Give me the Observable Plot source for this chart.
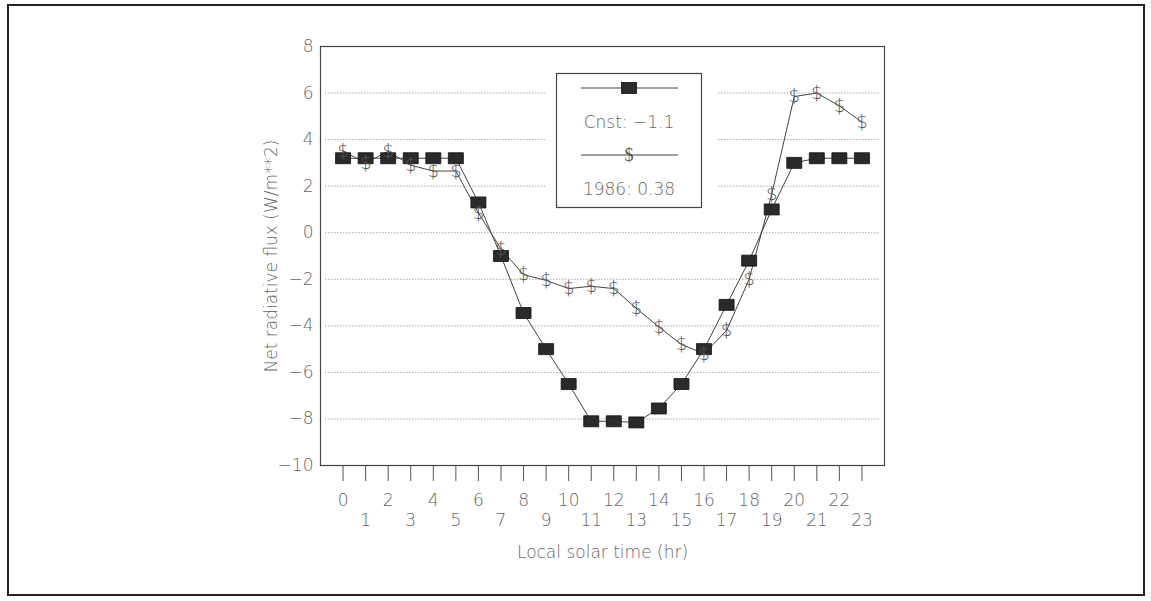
<!DOCTYPE html>
<html>
<head>
<meta charset="utf-8">
<script src="https://cdn.jsdelivr.net/npm/d3@7"></script>
<script src="https://cdn.jsdelivr.net/npm/@observablehq/plot@0.6"></script>
<style>
  html, body { margin: 0; padding: 0; background: #fff; }
  #wrap { position: relative; width: 1151px; height: 601px; overflow: hidden; }
  #border { position: absolute; left: 7px; top: 4px; width: 1134px; height: 588px; border: 2px solid #222; box-sizing: content-box; pointer-events: none; }
  #legend { position: absolute; left: 0; top: 0; }
  svg text { font-family: "DejaVu Sans", Lato, sans-serif; font-weight: 200; }
</style>
</head>
<body>
<div id="wrap"><div id="border"></div></div>
<script>
// ---- data ----
const hours = d3.range(0, 24);
const cnst = [3.2, 3.2, 3.2, 3.2, 3.2, 3.2, 1.3, -1.0, -3.45, -5.0, -6.5, -8.1,
              -8.1, -8.15, -7.55, -6.5, -5.0, -3.1, -1.2, 1.0, 3.0, 3.2, 3.2, 3.2];
const y1986 = [3.5, 3.0, 3.5, 2.9, 2.65, 2.65, 0.85, -0.7, -1.8, -2.05, -2.4, -2.3,
               -2.4, -3.25, -4.05, -4.8, -5.2, -4.2, -2.0, 1.65, 5.85, 6.0, 5.45, 4.75];
const yTicks = [-10, -8, -6, -4, -2, 0, 2, 4, 6, 8];
const gridVals = [-8, -6, -4, -2, 0, 2, 4, 6];
const evenHours = hours.filter(h => h % 2 === 0);
const oddHours = hours.filter(h => h % 2 === 1);
const seriesLabels = ["Cnst: \u22121.1", "1986: 0.38"];
const xLabel = "Local solar time (hr)";
const yLabel = "Net radiative flux (W/m**2)";

const cnstData = hours.map((h, i) => ({hour: h, value: cnst[i]}));
const d1986 = hours.map((h, i) => ({hour: h, value: y1986[i]}));

const rectSymbol = { draw(ctx) { ctx.rect(-7.5, -5.5, 15, 11); } };
const textColor = "#666";
const lineColor = "#444";

const chart = Plot.plot({
  width: 1151,
  height: 601,
  marginLeft: 320,
  marginRight: 267,
  marginTop: 46,
  marginBottom: 136,
  style: { fontSize: "16px", color: textColor, background: "transparent" },
  x: { domain: [-1, 24] },
  y: { domain: [-10, 8] },
  marks: [
    Plot.ruleY(gridVals, { stroke: "#aaa", strokeDasharray: "1.5,1.5", strokeWidth: 1, insetLeft: 5, insetRight: 4 }),
    Plot.frame({ stroke: "#444", strokeWidth: 1.2 }),
    Plot.axisY({ ticks: yTicks, tickSize: 0, tickPadding: 7, fontSize: 17,
                 label: yLabel, labelAnchor: "center", labelArrow: "none", labelOffset: 56 }),
    Plot.axisX({ ticks: hours, tickSize: 16, tickFormat: () => "", stroke: "#555", label: null }),
    Plot.axisX({ ticks: evenHours, tickSize: 0, tickPadding: 28, fontSize: 17, label: null }),
    Plot.axisX({ ticks: oddHours, tickSize: 0, tickPadding: 48, fontSize: 17,
                 label: xLabel, labelAnchor: "center", labelArrow: "none", labelOffset: 92 }),
    Plot.line(cnstData, { x: "hour", y: "value", stroke: lineColor, strokeWidth: 1 }),
    Plot.line(d1986, { x: "hour", y: "value", stroke: lineColor, strokeWidth: 1 }),
    Plot.dot(cnstData, { x: "hour", y: "value", symbol: rectSymbol, fill: "#2a2a2a", stroke: "#111", strokeWidth: 0.8 }),
    Plot.text(d1986, { x: "hour", y: "value", text: () => "$", fontSize: 18,
                       fontFamily: "Liberation Serif, DejaVu Serif, serif", fill: "#555" })
  ]
});
document.getElementById("wrap").appendChild(chart);

// ---- legend overlay (covers gridlines like the original) ----
const leg = d3.select("#wrap").append("svg")
  .attr("id", "legend").attr("width", 1151).attr("height", 601);
leg.append("rect").attr("x", 545).attr("y", 70).attr("width", 173).attr("height", 140).attr("fill", "#fff");
leg.append("rect").attr("x", 556.5).attr("y", 73.5).attr("width", 145).attr("height", 134)
  .attr("fill", "#fff").attr("stroke", "#444").attr("stroke-width", 1.2);
const cx = 629;
const rows = [88, 155];
rows.forEach((ry, i) => {
  leg.append("line").attr("x1", 581).attr("x2", 678).attr("y1", ry).attr("y2", ry)
    .attr("stroke", lineColor).attr("stroke-width", 1);
  if (i === 0) {
    leg.append("rect").attr("x", cx - 7.5).attr("y", ry - 5.5).attr("width", 15).attr("height", 11)
      .attr("fill", "#2a2a2a").attr("stroke", "#111").attr("stroke-width", 0.8);
  } else {
    leg.append("text").attr("x", cx).attr("y", ry).attr("dy", "0.35em").attr("text-anchor", "middle")
      .style("font-family", "Liberation Serif, DejaVu Serif, serif").style("font-size", "18px")
      .style("font-weight", 400).attr("fill", "#555").text("$");
  }
  leg.append("text").attr("x", cx).attr("y", ry + 34).attr("dy", "0.35em").attr("text-anchor", "middle")
    .style("font-size", "17px").attr("fill", textColor).text(seriesLabels[i]);
});
</script>
</body>
</html>
